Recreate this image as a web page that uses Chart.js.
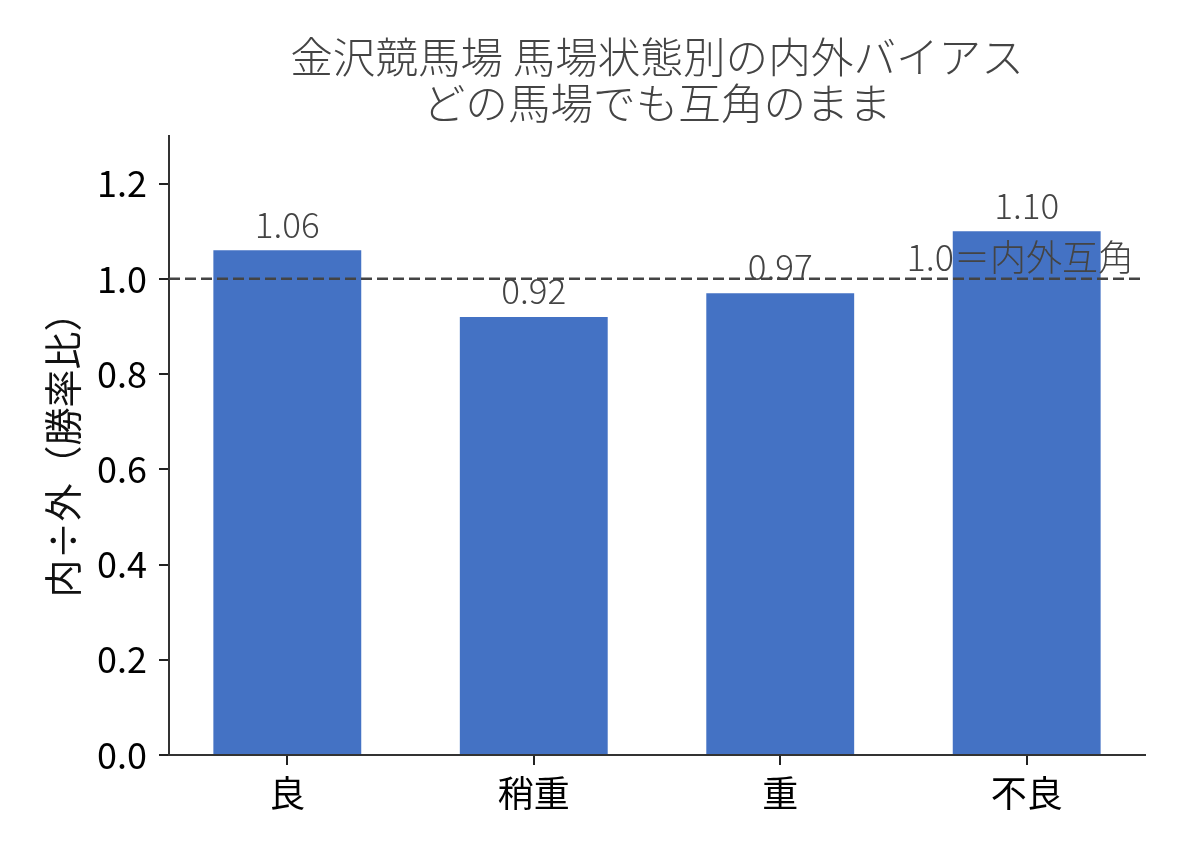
<!DOCTYPE html>
<html>
<head>
<meta charset="utf-8">
<script src="https://cdn.jsdelivr.net/npm/chart.js@4.4.1/dist/chart.umd.min.js"></script>
<style>
  html, body { margin: 0; padding: 0; background: #fff; }
  #wrap { width: 1188px; height: 858px; }
</style>
</head>
<body>
<div id="wrap"><canvas id="biasChart" width="1188" height="858"></canvas></div>
<script>
const categories = ['良', '稍重', '重', '不良'];
const ratios = [1.06, 0.92, 0.97, 1.10];
const yTicks = [0.0, 0.2, 0.4, 0.6, 0.8, 1.0, 1.2];
const parityValue = 1.0;
const parityLabel = '1.0＝内外互角';
const titleLines = ['金沢競馬場 馬場状態別の内外バイアス', 'どの馬場でも互角のまま'];
const yTitle = '内÷外（勝率比）';

const FONT = "'Noto Sans CJK JP', 'Noto Sans', sans-serif";

// title centred over the plot, dashed parity line + label, values above bars
const overlayPlugin = {
  id: 'overlay',
  afterDraw(chart) {
    const ctx = chart.ctx;
    const area = chart.chartArea;
    const cx = (area.left + area.right) / 2;
    ctx.save();
    ctx.fillStyle = '#444';
    ctx.font = '300 42.6px ' + FONT;
    ctx.textAlign = 'center';
    ctx.textBaseline = 'middle';
    titleLines.forEach((t, i) => ctx.fillText(t, cx, 57 + i * 46));
    ctx.restore();
  },
  afterDatasetsDraw(chart) {
    const ctx = chart.ctx;
    const area = chart.chartArea;
    const y = chart.scales.y;
    const py = y.getPixelForValue(parityValue);
    ctx.save();
    ctx.strokeStyle = '#444';
    ctx.lineWidth = 2.5;
    ctx.setLineDash([11, 5]);
    ctx.beginPath();
    ctx.moveTo(area.left, py);
    ctx.lineTo(area.right, py);
    ctx.stroke();
    ctx.setLineDash([]);

    ctx.fillStyle = '#444';
    ctx.font = '300 35px ' + FONT;
    ctx.textBaseline = 'middle';
    ctx.textAlign = 'center';
    chart.getDatasetMeta(0).data.forEach((bar, i) => {
      ctx.fillText(ratios[i].toFixed(2), bar.x, bar.y - 26);
    });
    ctx.textAlign = 'right';
    ctx.font = '300 36px ' + FONT;
    ctx.fillText(parityLabel, area.right - 11, py - 22);
    ctx.restore();
  }
};

new Chart(document.getElementById('biasChart').getContext('2d'), {
  type: 'bar',
  data: {
    datasets: [{
      data: categories.map((c, i) => ({ x: i, y: ratios[i] })),
      backgroundColor: '#4472C4',
      borderWidth: 0,
      barPercentage: 0.6,
      categoryPercentage: 1.0
    }]
  },
  options: {
    responsive: false,
    animation: false,
    devicePixelRatio: 1,
    layout: { padding: { left: 0, right: 43, top: 136, bottom: 0 } },
    plugins: {
      legend: { display: false },
      tooltip: { enabled: false },
      title: { display: false }
    },
    scales: {
      x: {
        type: 'linear',
        min: -0.48,
        max: 3.48,
        offset: false,
        afterBuildTicks: s => { s.ticks = categories.map((c, i) => ({ value: i })); },
        afterFit: s => { s.height = 103; },
        ticks: {
          callback: v => categories[v],
          color: '#000',
          font: { family: FONT, size: 36 },
          padding: 7,
          maxRotation: 0,
          autoSkip: false
        },
        grid: { offset: false, drawOnChartArea: false, drawTicks: true, tickLength: 10, color: '#222', lineWidth: 2 },
        border: { display: true, color: '#333', width: 2 }
      },
      y: {
        min: 0,
        max: 1.3,
        afterBuildTicks: s => { s.ticks = yTicks.map(v => ({ value: v })); },
        afterFit: s => { s.width = 169; },
        ticks: {
          callback: v => v.toFixed(1),
          color: '#000',
          font: { family: FONT, size: 36 },
          padding: 12
        },
        title: {
          display: true,
          text: yTitle,
          color: '#111',
          font: { family: FONT, size: 38 },
          padding: { top: 40, bottom: 0 }
        },
        grid: { drawOnChartArea: false, drawTicks: true, tickLength: 10, color: '#222', lineWidth: 2 },
        border: { display: true, color: '#333', width: 2 }
      }
    }
  },
  plugins: [overlayPlugin]
});
</script>
</body>
</html>
